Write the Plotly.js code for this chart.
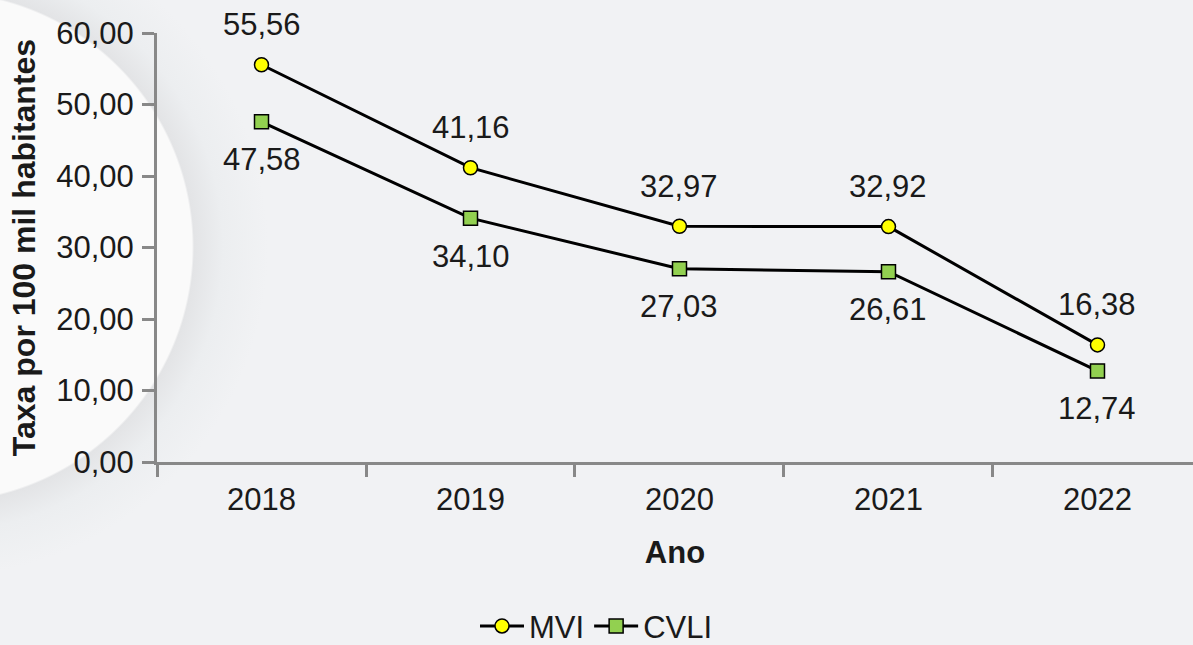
<!DOCTYPE html>
<html>
<head>
<meta charset="utf-8">
<script src="https://cdn.plot.ly/plotly-3.0.1.min.js"></script>
<style>
  html, body { margin: 0; padding: 0; width: 1193px; height: 645px; overflow: hidden; }
  #chart {
    width: 1193px; height: 645px;
    background: radial-gradient(circle 330px at -62px 247px, #fafafa 0px, #fafafa 254px, #e3e4e6 256px, #eceef0 285px, #f1f2f4 330px);
    background-color: #f1f2f4;
  }
</style>
</head>
<body>
<div id="chart"></div>
<script>
const years = ['2018', '2019', '2020', '2021', '2022'];
const mvi = [55.56, 41.16, 32.97, 32.92, 16.38];
const cvli = [47.58, 34.10, 27.03, 26.61, 12.74];
const yTickVals = [0, 10, 20, 30, 40, 50, 60];
const seriesNames = ['MVI', 'CVLI'];

const FONT = 'Liberation Sans, Arial, sans-serif';
const TXT = '#1a1a1a';
const fmt = v => v.toFixed(2).replace('.', ',');

const traces = [
  {
    x: years, y: mvi, name: seriesNames[0], type: 'scatter', mode: 'lines+markers',
    line: { color: '#000000', width: 3 },
    marker: { symbol: 'circle', size: 14, color: '#ffff00', line: { color: '#000000', width: 1.5 } },
    cliponaxis: false
  },
  {
    x: years, y: cvli, name: seriesNames[1], type: 'scatter', mode: 'lines+markers',
    line: { color: '#000000', width: 3 },
    marker: { symbol: 'square', size: 14, color: '#92d050', line: { color: '#000000', width: 1.5 } },
    cliponaxis: false
  }
];

const annotations = [];
years.forEach((yr, i) => {
  annotations.push({ xref: 'x', yref: 'y', x: i, y: mvi[i], text: fmt(mvi[i]), showarrow: false, yshift: 40,
    font: { family: FONT, size: 31, color: TXT } });
  annotations.push({ xref: 'x', yref: 'y', x: i, y: cvli[i], text: fmt(cvli[i]), showarrow: false, yshift: -38,
    font: { family: FONT, size: 31, color: TXT } });
});

const layout = {
  width: 1193, height: 645,
  margin: { l: 157, r: 0, t: 33, b: 183, pad: 0 },
  paper_bgcolor: 'rgba(0,0,0,0)',
  plot_bgcolor: 'rgba(0,0,0,0)',
  separators: ',.',
  font: { family: FONT, size: 31, color: TXT },
  showlegend: true,
  legend: {
    orientation: 'h', xref: 'container', yref: 'container',
    x: 0.5, xanchor: 'center', y: 0.029, yanchor: 'middle',
    font: { family: FONT, size: 31, color: TXT },
    bgcolor: 'rgba(0,0,0,0)', itemwidth: 44, tracegroupgap: 0
  },
  xaxis: {
    type: 'category', range: [-0.5, 4.457], fixedrange: true,
    showgrid: false, zeroline: false,
    showline: true, linecolor: '#888888', linewidth: 3,
    ticks: 'outside', tickson: 'boundaries', ticklen: 12, tickwidth: 3, tickcolor: '#888888',
    tickfont: { family: FONT, size: 31, color: TXT },
    ticklabelstandoff: 8,
    title: { text: '<b>Ano</b>', font: { family: FONT, size: 31, color: TXT }, standoff: 26 }
  },
  yaxis: {
    range: [0, 60], fixedrange: true,
    tickvals: yTickVals, tickformat: '.2f',
    showgrid: false, zeroline: false,
    showline: true, linecolor: '#888888', linewidth: 3,
    ticks: 'outside', ticklen: 12, tickwidth: 3, tickcolor: '#888888',
    tickfont: { family: FONT, size: 31, color: TXT },
    ticklabelstandoff: 2,
    title: { text: '<b>Taxa por 100 mil habitantes</b>', font: { family: FONT, size: 32, color: TXT }, standoff: 12 }
  },
  annotations: annotations
};

Plotly.newPlot('chart', traces, layout, { displayModeBar: false, staticPlot: true });
</script>
</body>
</html>
